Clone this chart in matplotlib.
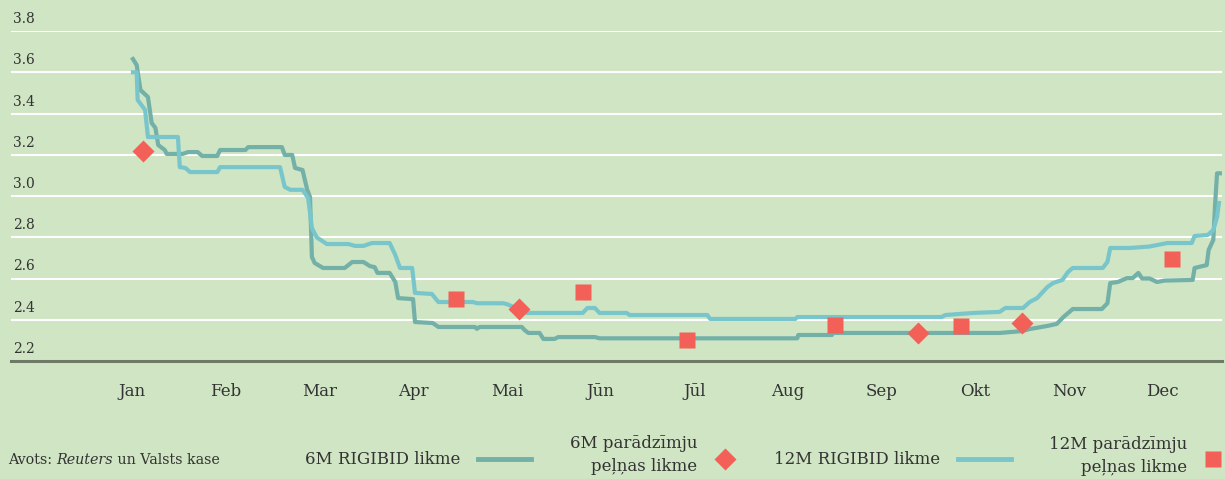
import numpy as np
import matplotlib
matplotlib.use("Agg")
import matplotlib.pyplot as plt
from matplotlib.lines import Line2D

# month positions: 0 = Jan label, 11 = Dec label
months = ["Jan", "Feb", "Mar", "Apr", "Mai", "Jūn", "Jūl", "Aug", "Sep", "Okt", "Nov", "Dec"]
y_ticks = [2.2, 2.4, 2.6, 2.8, 3.0, 3.2, 3.4, 3.6, 3.8]

# 6M RIGIBID likme
rigibid6_x = [0.01, 0.05, 0.09, 0.17, 0.21, 0.25, 0.28, 0.35, 0.37, 0.54, 0.60, 0.70, 0.75, 0.91,
              0.94, 1.21, 1.24, 1.60, 1.63, 1.71, 1.74, 1.82, 1.87, 1.90, 1.92, 1.95, 2.04, 2.27,
              2.35, 2.47, 2.54, 2.59, 2.62, 2.75, 2.81, 2.84, 3.00, 3.02, 3.21, 3.27, 3.66, 3.68,
              3.71, 4.16, 4.19, 4.23, 4.35, 4.39, 4.51, 4.55, 4.94, 4.99, 7.10, 7.11, 7.47, 7.48,
              9.26, 9.50, 9.58, 9.77, 9.87, 9.94, 10.04, 10.35, 10.41, 10.44, 10.52, 10.62, 10.68,
              10.74, 10.78, 10.86, 10.94, 11.02, 11.32, 11.34, 11.47, 11.49, 11.54, 11.56, 11.58, 11.61]
rigibid6_y = [3.664, 3.635, 3.514, 3.480, 3.354, 3.330, 3.247, 3.223, 3.204, 3.204, 3.213, 3.213, 3.194, 3.194,
              3.223, 3.223, 3.237, 3.237, 3.199, 3.199, 3.136, 3.126, 3.030, 2.995, 2.704, 2.675, 2.651, 2.651,
              2.680, 2.680, 2.660, 2.655, 2.627, 2.627, 2.583, 2.505, 2.500, 2.389, 2.384, 2.365, 2.365, 2.356,
              2.365, 2.365, 2.350, 2.336, 2.336, 2.307, 2.307, 2.316, 2.316, 2.310, 2.310, 2.326, 2.326, 2.336,
              2.336, 2.345, 2.355, 2.370, 2.380, 2.413, 2.452, 2.452, 2.480, 2.578, 2.583, 2.602, 2.602,
              2.627, 2.600, 2.600, 2.583, 2.590, 2.593, 2.651, 2.665, 2.738, 2.787, 2.966, 3.110, 3.110]

# 12M RIGIBID likme
rigibid12_x = [0.01, 0.05, 0.06, 0.14, 0.17, 0.49, 0.51, 0.57, 0.62, 0.91, 0.94, 1.58, 1.63, 1.69,
               1.82, 1.88, 1.92, 1.97, 2.08, 2.31, 2.38, 2.47, 2.56, 2.75, 2.81, 2.86, 2.99, 3.02,
               3.20, 3.27, 3.64, 3.68, 3.96, 4.00, 4.22, 4.81, 4.86, 4.94, 4.99, 5.28, 5.31, 6.14,
               6.17, 7.08, 7.10, 8.64, 8.68, 8.98, 9.26, 9.32, 9.51, 9.58, 9.66, 9.77, 9.83, 9.93,
               9.99, 10.04, 10.36, 10.41, 10.44, 10.65, 10.86, 11.05, 11.31, 11.34, 11.48, 11.54,
               11.58, 11.60]
rigibid12_y = [3.600, 3.600, 3.466, 3.417, 3.286, 3.286, 3.140, 3.136, 3.116, 3.116, 3.140, 3.140, 3.044, 3.030,
               3.030, 2.990, 2.845, 2.800, 2.767, 2.767, 2.758, 2.758, 2.772, 2.772, 2.714, 2.651, 2.651, 2.530,
               2.525, 2.486, 2.486, 2.480, 2.480, 2.476, 2.433, 2.433, 2.457, 2.457, 2.433, 2.433, 2.423, 2.423,
               2.404, 2.404, 2.413, 2.413, 2.423, 2.433, 2.438, 2.457, 2.457, 2.486, 2.505, 2.559, 2.578, 2.593,
               2.632, 2.651, 2.651, 2.680, 2.748, 2.748, 2.755, 2.772, 2.772, 2.806, 2.811, 2.835,
               2.898, 2.966]

# parādzīmju peļņas likme (auctions)
bills6_x = [0.12, 4.13, 8.39, 9.50]
bills6_y = [3.218, 2.452, 2.336, 2.384]
bills12_x = [3.46, 4.81, 5.92, 7.50, 8.85, 11.10]
bills12_y = [2.500, 2.535, 2.300, 2.375, 2.370, 2.695]

BG = "#cfe5c3"
C6 = "#72b0a8"
C12 = "#78c6cc"
CM = "#f26058"
TXT = "#333333"
FONT = "DejaVu Serif"

W, H = 1225, 479
fig = plt.figure(figsize=(W / 100, H / 100), dpi=100, facecolor=BG)
plt.rcParams["font.family"] = FONT

# axes: gridline 3.8 at y=31px, baseline 2.2 at y=361px
ax = fig.add_axes([11 / W, (H - 361) / H, 1211 / W, 330 / H])
ax.set_facecolor(BG)
ax.set_ylim(2.2, 3.8)
ax.set_xlim((11 - 132) / 93.7, (1222 - 132) / 93.7)
for s in ax.spines.values():
    s.set_visible(False)
ax.set_xticks([])
ax.set_yticks([])

for v in y_ticks[1:]:
    ax.axhline(v, color="white", lw=1.5, zorder=1)
ax.axhline(2.2, color="#6e7a66", lw=2.2, zorder=1, clip_on=False)

for v in y_ticks:
    ax.annotate(f"{v:.1f}", xy=(0, v), xycoords=("axes fraction", "data"),
                xytext=(2, 5), textcoords="offset pixels", ha="left", va="bottom",
                fontsize=10, color=TXT)

for i, m in enumerate(months):
    ax.annotate(m, xy=(i, 2.2), xycoords="data", xytext=(0, -31), textcoords="offset pixels",
                ha="center", va="center", fontsize=12, color=TXT, annotation_clip=False)

ax.plot(rigibid6_x, rigibid6_y, color=C6, lw=3, zorder=3)
ax.plot(rigibid12_x, rigibid12_y, color=C12, lw=3, zorder=4)
ax.plot(bills6_x, bills6_y, ls="none", marker="D", ms=11, color=CM, mec="none", zorder=5)
ax.plot(bills12_x, bills12_y, ls="none", marker="s", ms=11.5, color=CM, mec="none", zorder=5)

# legend / source strip in pixel space
lax = fig.add_axes([0, 0, 1, 1], facecolor="none")
lax.set_xlim(0, W)
lax.set_ylim(H, 0)
lax.axis("off")

fs = 12
lax.text(460, 459, "6M RIGIBID likme", ha="right", va="center", fontsize=fs, color=TXT)
lax.add_line(Line2D([478, 531], [459, 459], color=C6, lw=3.5))
lax.text(697, 455, "6M parādzīmju\npeļņas likme", ha="right", va="center", fontsize=fs,
         color=TXT, linespacing=1.4, multialignment="right")
lax.plot([725], [459], marker="D", ms=11, color=CM, mec="none")
lax.text(940, 459, "12M RIGIBID likme", ha="right", va="center", fontsize=fs, color=TXT)
lax.add_line(Line2D([958, 1011], [459, 459], color=C12, lw=3.5))
lax.text(1187, 456, "12M parādzīmju\npeļņas likme", ha="right", va="center", fontsize=fs,
         color=TXT, linespacing=1.4, multialignment="right")
lax.plot([1213], [459], marker="s", ms=11.5, color=CM, mec="none")

# source line with italic part
r = fig.canvas.get_renderer()
x0 = 8
for part, style in [("Avots: ", "normal"), ("Reuters", "italic"), (" un Valsts kase", "normal")]:
    t = lax.text(x0, 460, part, ha="left", va="center", fontsize=10.3, color=TXT, style=style)
    bb = t.get_window_extent(renderer=r)
    x0 += bb.width

fig.savefig("out.png", dpi=100, facecolor=BG)
